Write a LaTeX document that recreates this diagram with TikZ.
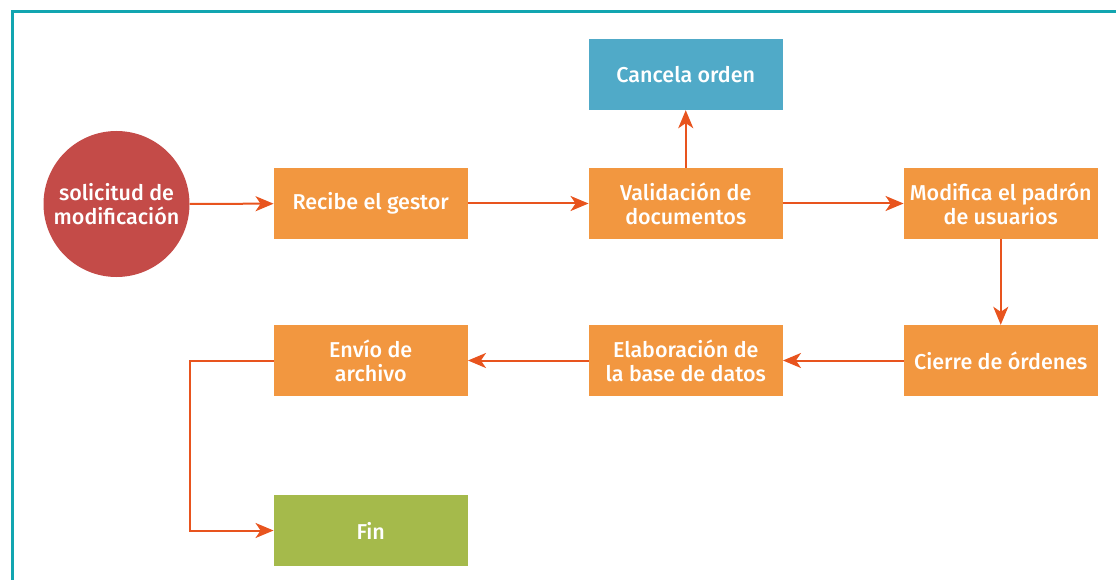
\documentclass[tikz,border=0pt]{standalone}
\usepackage{fontspec}
\setmainfont{Fira Sans}[UprightFont=* Medium]
\usetikzlibrary{arrows.meta}
\definecolor{boxorange}{HTML}{F29740}
\definecolor{boxblue}{HTML}{50AAC8}
\definecolor{boxgreen}{HTML}{A5BA4B}
\definecolor{circred}{HTML}{C44B48}
\definecolor{arrowred}{HTML}{E8541E}
\definecolor{frameteal}{HTML}{12A5B0}
\tikzset{
  procbox/.style={fill=boxorange, text=white, minimum width=194pt, minimum height=71pt,
    inner sep=0pt, align=center, font=\fontsize{21.5}{24}\selectfont},
  bluebox/.style={procbox, fill=boxblue},
  greenbox/.style={procbox, fill=boxgreen},
  startcirc/.style={circle, fill=circred, text=white, minimum size=146pt, inner sep=0pt,
    align=center, font=\fontsize{21.5}{24}\selectfont},
  flow/.style={draw=arrowred, line width=2pt, -{Stealth[length=18pt,width=15pt,inset=5pt]}},
}
\begin{document}
\begin{tikzpicture}[x=1pt,y=-1pt]
\useasboundingbox (0,0) rectangle (1116,580);
\draw[frameteal, line width=2.2pt] (12.5,580) -- (12.5,11.5) -- (1116,11.5);
\node[startcirc] (sol) at (116.5,204) {solicitud de\\modificación};
\node[procbox] (rec) at (370.75,203.5) {Recibe el gestor};
\node[procbox] (val) at (685.75,203.5) {Validación de\\documentos};
\node[bluebox] (can) at (685.75,74.5) {Cancela orden};
\node[procbox] (mod) at (1000.75,203.5) {Modifica el padrón\\de usuarios};
\node[procbox] (cie) at (1000.75,360.5) {Cierre de órdenes};
\node[procbox] (ela) at (685.75,360.5) {Elaboración de\\la base de datos};
\node[procbox] (env) at (370.75,360.5) {Envío de\\archivo};
\node[greenbox] (fin) at (370.75,530.5) {Fin};
\coordinate (bend) at (189.5,0);
\draw[flow] (sol) -- (rec);
\draw[flow] (rec) -- (val);
\draw[flow] (val) -- (can);
\draw[flow] (val) -- (mod);
\draw[flow] (mod) -- (cie);
\draw[flow] (cie) -- (ela);
\draw[flow] (ela) -- (env);
\draw[flow] (env.west) -- (env.west -| bend) |- (fin.west);
\end{tikzpicture}
\end{document}
